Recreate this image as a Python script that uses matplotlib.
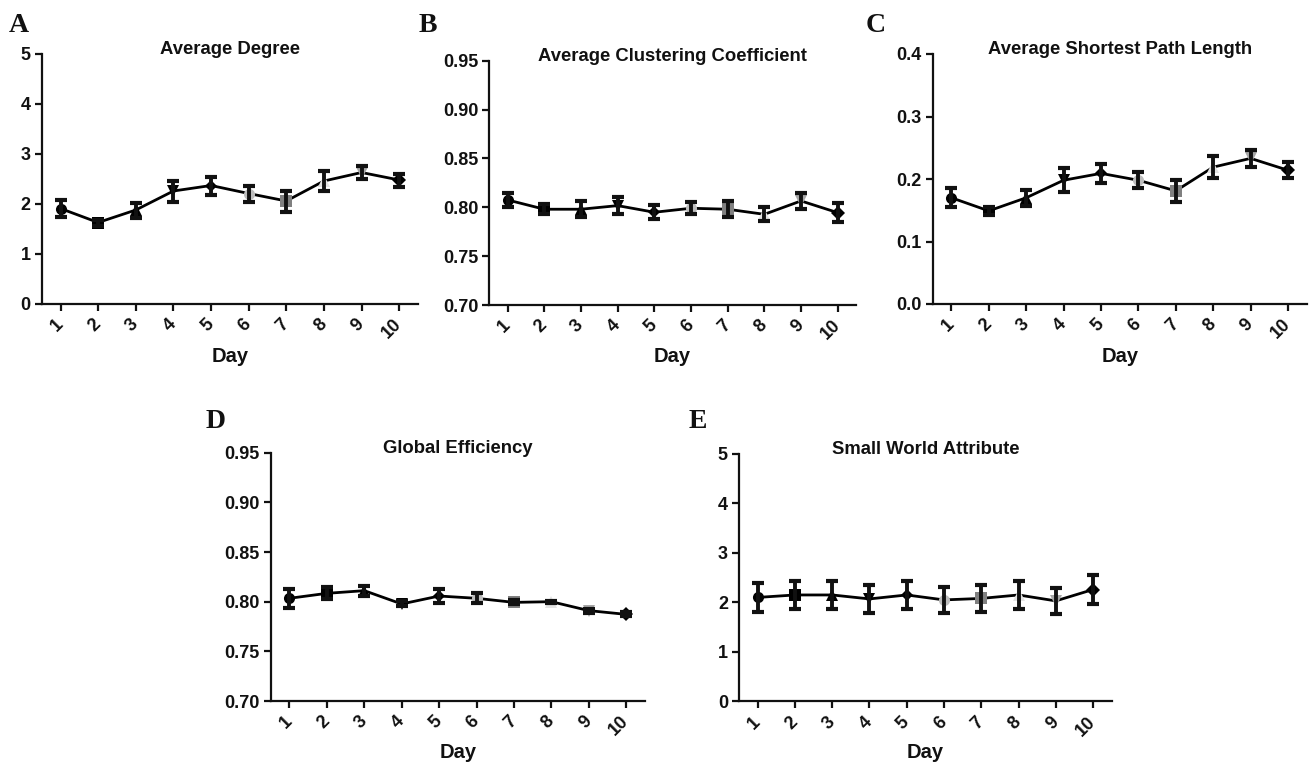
import numpy as np
import matplotlib.pyplot as plt

days = np.arange(1, 11)

# mean and error for each network metric
degree = [1.91, 1.63, 1.88, 2.26, 2.37, 2.21, 2.06, 2.46, 2.63, 2.48]
degree_err = [0.17, 0.06, 0.15, 0.21, 0.18, 0.16, 0.21, 0.20, 0.13, 0.13]

clustering = [0.8075, 0.798, 0.798, 0.8017, 0.7949, 0.799, 0.798, 0.7928, 0.8065, 0.7945]
clustering_err = [0.0075, 0.005, 0.008, 0.009, 0.007, 0.006, 0.008, 0.007, 0.0085, 0.01]

path_len = [0.170, 0.149, 0.170, 0.198, 0.209, 0.198, 0.181, 0.219, 0.233, 0.214]
path_len_err = [0.015, 0.006, 0.0125, 0.019, 0.015, 0.0125, 0.017, 0.0175, 0.013, 0.013]

efficiency = [0.8034, 0.8084, 0.8111, 0.7977, 0.8057, 0.8034, 0.7993, 0.800, 0.791, 0.7872]
efficiency_err = [0.0095, 0.006, 0.005, 0.0025, 0.0067, 0.005, 0.002, 0.001, 0.002, 0.002]

small_world = [2.10, 2.15, 2.15, 2.07, 2.15, 2.05, 2.08, 2.15, 2.03, 2.26]
small_world_err = [0.30, 0.28, 0.28, 0.28, 0.28, 0.26, 0.28, 0.28, 0.26, 0.30]

# GraphPad style: one symbol per day
markers = ['o', 's', '^', 'v', 'D', 'o', 's', '^', 'v', 'D']
marker_colors = ['black', 'black', 'black', 'black', 'black',
                 '#bdbdbd', '#808080', '#e3e3e3', '#a6a6a6', 'black']
marker_sizes = [8, 8.5, 8, 8, 6.5, 8, 8.5, 8, 8, 7]

plt.rcParams['font.family'] = 'Liberation Sans'
plt.rcParams['font.weight'] = 'bold'

fig = plt.figure(figsize=(13.12, 7.66), dpi=100)
W, H = 1312, 766


def axes_px(left, right, top, bottom):
    return fig.add_axes([left / W, 1 - bottom / H, (right - left) / W, (bottom - top) / H])


def panel(ax, y, yerr, title, ylim, yticks, fmt, letter, letter_xy):
    ax.plot(days, y, color='black', lw=2, zorder=2)
    for d, v, m, c, s in zip(days, y, markers, marker_colors, marker_sizes):
        ax.plot(d, v, marker=m, color=c, markersize=s, markeredgewidth=0, zorder=3)
    ax.errorbar(days, y, yerr=yerr, fmt='none', ecolor='#111111',
                elinewidth=2.8, capsize=4.5, capthick=3, zorder=4)

    ax.set_xlim(0.5, 10.5)
    ax.set_ylim(*ylim)
    ax.set_yticks(yticks)
    ax.set_yticklabels([fmt.format(t) for t in yticks])
    ax.set_xticks(days)
    ax.set_xticklabels([str(d) for d in days], rotation=45, ha='right',
                       va='center', rotation_mode='anchor')

    for side in ['top', 'right']:
        ax.spines[side].set_visible(False)
    for side in ['left', 'bottom']:
        ax.spines[side].set_linewidth(1.6)
        ax.spines[side].set_color('#111111')
    ax.tick_params(axis='both', length=5, width=1.6, color='#111111',
                   labelsize=13, labelcolor='#111111')
    ax.tick_params(axis='x', pad=8)
    ax.tick_params(axis='y', pad=3)

    ax.set_xlabel('Day', fontsize=14.5, fontweight='bold', color='#111111')
    ax.xaxis.set_label_coords(0.5, -0.17)
    ax.xaxis.label.set_va('top')

    ax.text(0.5, 1.0, title, transform=ax.transAxes, ha='center', va='baseline',
            fontsize=13.3, fontweight='bold', color='#111111')

    fig.text(letter_xy[0] / W, 1 - letter_xy[1] / H, letter, ha='left', va='baseline',
             fontsize=20, fontweight='bold', family='Liberation Serif', color='#111111')


ax_a = axes_px(41.7, 418, 54, 304)
panel(ax_a, degree, degree_err, 'Average Degree', (0, 5), [0, 1, 2, 3, 4, 5],
      '{:.0f}', 'A', (9, 32))

ax_b = axes_px(489.3, 856, 60.7, 305)
panel(ax_b, clustering, clustering_err, 'Average Clustering Coefficient', (0.70, 0.95),
      [0.70, 0.75, 0.80, 0.85, 0.90, 0.95], '{:.2f}', 'B', (419, 32))

ax_c = axes_px(932.7, 1306.7, 54, 304)
panel(ax_c, path_len, path_len_err, 'Average Shortest Path Length', (0, 0.4),
      [0.0, 0.1, 0.2, 0.3, 0.4], '{:.1f}', 'C', (866, 32))

ax_d = axes_px(270.7, 645, 452.7, 701)
panel(ax_d, efficiency, efficiency_err, 'Global Efficiency', (0.70, 0.95),
      [0.70, 0.75, 0.80, 0.85, 0.90, 0.95], '{:.2f}', 'D', (206, 428))

ax_e = axes_px(739, 1111.7, 454, 701.3)
panel(ax_e, small_world, small_world_err, 'Small World Attribute', (0, 5),
      [0, 1, 2, 3, 4, 5], '{:.0f}', 'E', (689, 428))

fig.savefig('out.png', dpi=100)
